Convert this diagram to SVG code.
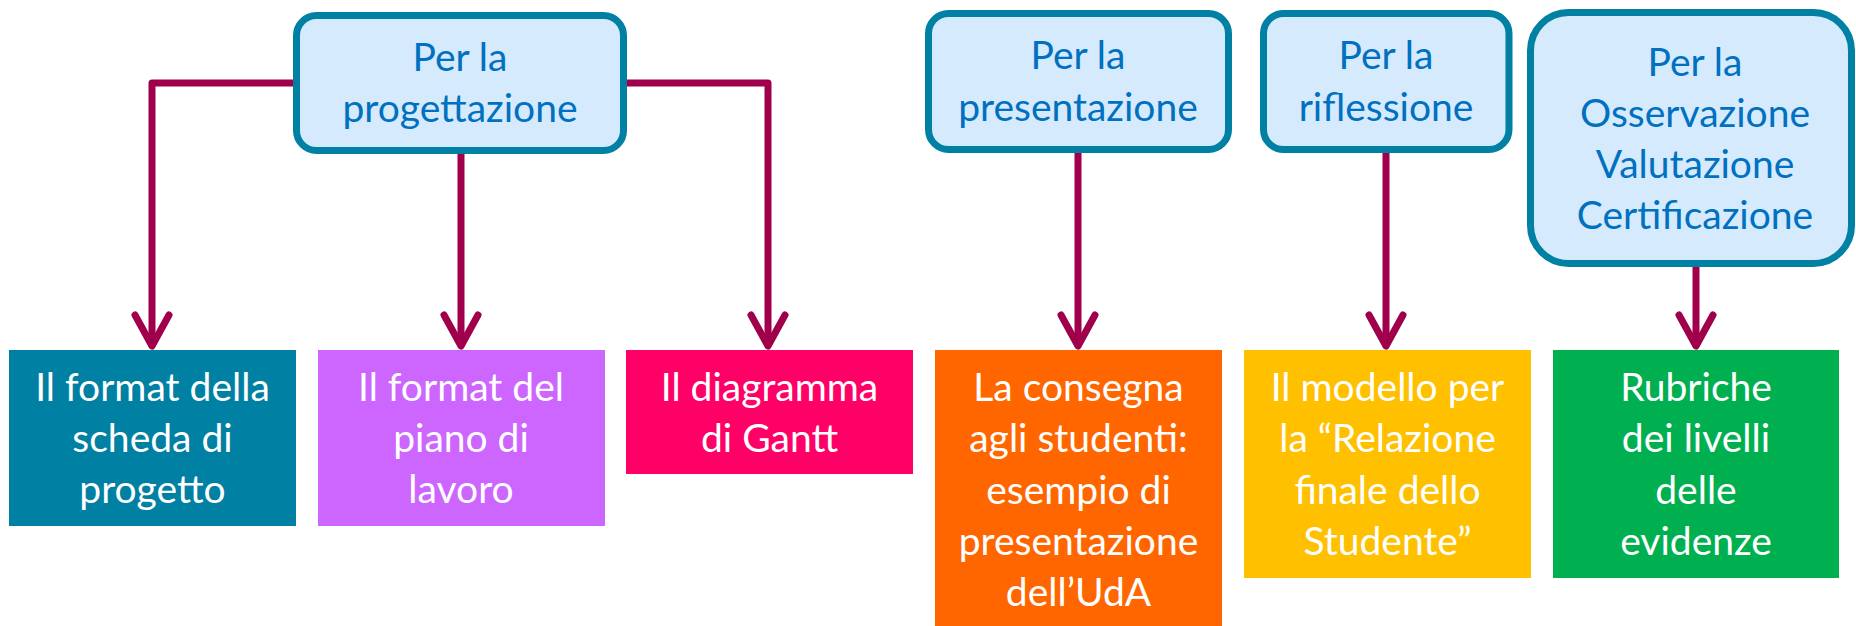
<svg xmlns="http://www.w3.org/2000/svg" width="1856" height="626" viewBox="0 0 1856 626">
<style>
.top rect{fill:#D5EAFC;stroke:#0080A3;stroke-width:7}
.top text{fill:#0070C0}
text{font-family:Lato,"Open Sans","Liberation Sans",sans-serif;font-size:39px;text-anchor:middle}
.bot text{fill:#FFFFFF}
.conn path{fill:none;stroke:#A0004B;stroke-width:7;stroke-linejoin:round}
</style>
<defs>
<marker id="arr" markerUnits="userSpaceOnUse" orient="auto" refX="0" refY="0" markerWidth="60" markerHeight="60" overflow="visible">
<path d="M -31 -17 L 0 0 L -31 17" fill="none" stroke="#A0004B" stroke-width="7" stroke-linecap="round" stroke-linejoin="round"/>
</marker>
</defs>
<g class="conn" id="connectors">
<path d="M 296 83 H 152 V 346" marker-end="url(#arr)"/>
<path d="M 461 150 V 346" marker-end="url(#arr)"/>
<path d="M 624 83 H 768 V 346" marker-end="url(#arr)"/>
<path d="M 1078 150 V 346" marker-end="url(#arr)"/>
<path d="M 1386 150 V 346" marker-end="url(#arr)"/>
<path d="M 1696 264 V 346" marker-end="url(#arr)"/>
</g>
<g class="top" id="n-progettazione">
<rect x="296.5" y="15.5" width="327" height="135" rx="20"/>
<text x="460" y="71">Per la</text>
<text x="460" y="122">progettazione</text>
</g>
<g class="top" id="n-presentazione">
<rect x="928.5" y="13.5" width="300" height="136" rx="20"/>
<text x="1078" y="69">Per la</text>
<text x="1078" y="121">presentazione</text>
</g>
<g class="top" id="n-riflessione">
<rect x="1263.5" y="13.5" width="245.5" height="136" rx="20"/>
<text x="1386" y="69">Per la</text>
<text x="1386" y="121">riflessione</text>
</g>
<g class="top" id="n-osservazione">
<rect x="1530.5" y="12.5" width="321" height="251" rx="38"/>
<text x="1695" y="76">Per la</text>
<text x="1695" y="127">Osservazione</text>
<text x="1695" y="178">Valutazione</text>
<text x="1695" y="229">Certificazione</text>
</g>
<g class="bot" id="n-scheda">
<rect x="9" y="350" width="287" height="176" fill="#0080A3"/>
<text x="152.5" y="401">Il format della</text>
<text x="152.5" y="452">scheda di</text>
<text x="152.5" y="503">progetto</text>
</g>
<g class="bot" id="n-piano">
<rect x="318" y="350" width="287" height="176" fill="#CC66FF"/>
<text x="461" y="401">Il format del</text>
<text x="461" y="452">piano di</text>
<text x="461" y="503">lavoro</text>
</g>
<g class="bot" id="n-gantt">
<rect x="626" y="350" width="287" height="124" fill="#FF0066"/>
<text x="769.5" y="401">Il diagramma</text>
<text x="769.5" y="452">di Gantt</text>
</g>
<g class="bot" id="n-consegna">
<rect x="935" y="350" width="287" height="276" fill="#FF6600"/>
<text x="1078.5" y="401">La consegna</text>
<text x="1078.5" y="452">agli studenti:</text>
<text x="1078.5" y="504">esempio di</text>
<text x="1078.5" y="555">presentazione</text>
<text x="1078.5" y="606">dell’UdA</text>
</g>
<g class="bot" id="n-relazione">
<rect x="1244" y="350" width="287" height="228" fill="#FFC000"/>
<text x="1387.5" y="401">Il modello per</text>
<text x="1387.5" y="452">la “Relazione</text>
<text x="1387.5" y="504">finale dello</text>
<text x="1387.5" y="555">Studente”</text>
</g>
<g class="bot" id="n-rubriche">
<rect x="1553" y="350" width="286" height="228" fill="#00B050"/>
<text x="1696" y="401">Rubriche</text>
<text x="1696" y="452">dei livelli</text>
<text x="1696" y="504">delle</text>
<text x="1696" y="555">evidenze</text>
</g>
</svg>
